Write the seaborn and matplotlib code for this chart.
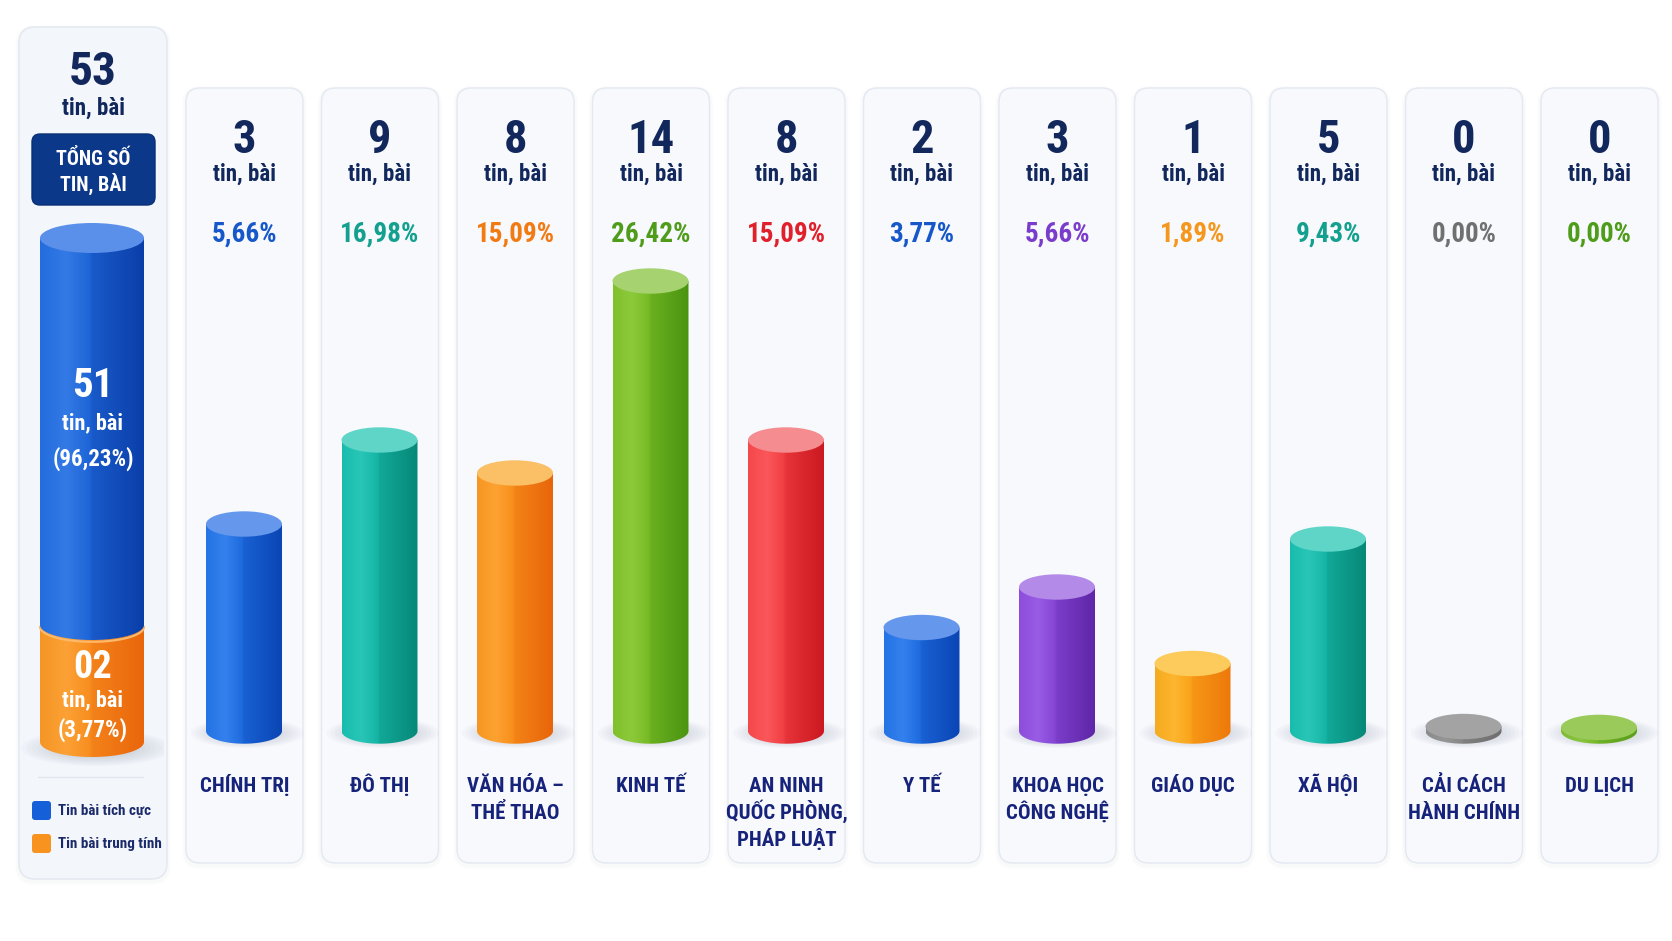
import numpy as np
import matplotlib
matplotlib.use('Agg')
import matplotlib.pyplot as plt
import matplotlib.font_manager as fm
from matplotlib.patches import FancyBboxPatch, Ellipse, PathPatch
from matplotlib.path import Path
from matplotlib.colors import to_rgb, LinearSegmentedColormap
import seaborn as sns

# ── Data ─────────────────────────────────────────────────────
categories = ['CHÍNH TRỊ', 'ĐÔ THỊ', 'VĂN HÓA –\nTHỂ THAO', 'KINH TẾ',
              'AN NINH\nQUỐC PHÒNG,\nPHÁP LUẬT', 'Y TẾ', 'KHOA HỌC\nCÔNG NGHỆ',
              'GIÁO DỤC', 'XÃ HỘI', 'CẢI CÁCH\nHÀNH CHÍNH', 'DU LỊCH']
counts = [3, 9, 8, 14, 8, 2, 3, 1, 5, 0, 0]
percents = ['5,66%', '16,98%', '15,09%', '26,42%', '15,09%', '3,77%',
            '5,66%', '1,89%', '9,43%', '0,00%', '0,00%']
# cylinder heights as drawn in the graphic (not to scale with the counts)
bar_height = [6.9, 9.7, 8.6, 15.0, 9.7, 3.45, 4.8, 2.25, 6.4, 0.15, 0.12]

total_count = 53
positive_count = 51
neutral_count = 2
positive_pct = '96,23%'
neutral_pct = '3,77%'
total_height = 16.8      # drawn height of the stacked cylinder
neutral_height = 3.9     # drawn height of the orange part

# body light, body dark, cap, percent text colour
styles = [
    ('#2577ec', '#0a45b4', '#6598ec', '#1657c9'),
    ('#19c2b2', '#078878', '#5fd5c8', '#13a08e'),
    ('#fd9b22', '#e8650a', '#fbbf66', '#f27a12'),
    ('#84c62c', '#4a9410', '#a6d270', '#4f9c1a'),
    ('#fb4a4e', '#cc1820', '#f58c90', '#e0202b'),
    ('#2577ec', '#0a45b4', '#6598ec', '#1657c9'),
    ('#9150e2', '#5f26a8', '#b38ae8', '#7a3ccb'),
    ('#fdb020', '#ee780a', '#fccb5c', '#f5971c'),
    ('#19c2b2', '#078878', '#5fd5c8', '#13a08e'),
    ('#8e8e8e', '#6e6e6e', '#a3a3a3', '#707070'),
    ('#80c030', '#5a9e1a', '#9acb5a', '#4f9c1a'),
]

# ── Fonts ────────────────────────────────────────────────────
sns.set_style('white')
avail = {f.name for f in fm.fontManager.ttflist}
FONT = 'Roboto'
for cand in ['Roboto Condensed', 'Liberation Sans Narrow', 'Roboto']:
    if cand in avail:
        FONT = cand
        break
SHRINK = 1.0 if FONT != 'Roboto' else 0.86
plt.rcParams['font.family'] = [FONT, 'DejaVu Sans']

NAVY = '#12285c'
LABEL = '#17237a'

W, H = 1672, 941
fig = plt.figure(figsize=(W / 100, H / 100), dpi=100)
fig.patch.set_facecolor('white')

# background axes in pixel units
bg = fig.add_axes([0, 0, 1, 1])
bg.set_xlim(0, W)
bg.set_ylim(H, 0)
bg.axis('off')
bg.set_zorder(0)


def card(x, y, w, h, fc, ec, r=14):
    for k, a in enumerate([0.015, 0.02, 0.025]):
        g = 4 - k
        bg.add_patch(FancyBboxPatch((x - g, y - g + 2), w + 2 * g, h + 2 * g,
                                    boxstyle=f'round,pad=0,rounding_size={r + g}',
                                    fc='#9aa6bd', ec='none', alpha=a))
    bg.add_patch(FancyBboxPatch((x, y), w, h, boxstyle=f'round,pad=0,rounding_size={r}',
                                fc=fc, ec=ec, lw=1.0))


def body_cmap(light, dark):
    l = np.array(to_rgb(light))
    d = np.array(to_rgb(dark))
    hi = l + (1 - l) * 0.07
    return LinearSegmentedColormap.from_list(
        'cyl', [(0, l * 0.97), (0.25, hi), (0.47, l * 0.78 + d * 0.22),
                (0.5, l * 0.55 + d * 0.45), (1, d)])


def cyl_path(cx, w, base, top, ry):
    t = np.linspace(0, np.pi, 50)
    arc = np.column_stack([cx + w / 2 * np.cos(t), base - ry * np.sin(t)])
    verts = np.vstack([[[cx - w / 2, top], [cx + w / 2, top]], arc, [[cx - w / 2, top]]])
    codes = [Path.MOVETO] + [Path.LINETO] * (len(verts) - 2) + [Path.CLOSEPOLY]
    return Path(verts, codes)


def draw_cylinder(ax, cx, w, base, top, ry, light, dark, cap, z=3, cap_on=True):
    clip = PathPatch(cyl_path(cx, w, base, top, ry), transform=ax.transData,
                     fc='none', ec='none')
    grad = np.linspace(0, 1, 256)[None, :]
    im = ax.imshow(grad, cmap=body_cmap(light, dark), aspect='auto', origin='lower',
                   extent=[cx - w / 2, cx + w / 2, base - ry * 1.05, top],
                   interpolation='bilinear', zorder=z)
    im.set_clip_path(clip)
    if cap_on:
        ax.add_patch(Ellipse((cx, top), w, 2 * ry, fc=cap, ec='none', zorder=z + 0.5))


def draw_shadow(ax, cx, base, w, h):
    for k in range(9):
        s = 1 - k * 0.07
        ax.add_patch(Ellipse((cx + w * 0.03, base), w * s, h * s, fc='#8a92a3',
                             ec='none', alpha=0.045, zorder=2))


# ── Left summary card ───────────────────────────────────────
card(19, 27, 148, 852, '#f3f6fb', '#e2e7f0', r=16)
bg.text(93, 85, str(total_count), ha='center', va='baseline', fontsize=34,
        fontweight='bold', color=NAVY)
bg.text(93, 115, 'tin, bài', ha='center', va='baseline', fontsize=16.5,
        fontweight='bold', color=NAVY)
bg.add_patch(FancyBboxPatch((32, 134), 123, 71, boxstyle='round,pad=0,rounding_size=8',
                            fc='#0c388a', ec='#0a2f75', lw=1))
bg.text(93, 165, 'TỔNG SỐ', ha='center', va='baseline', fontsize=14.5 * SHRINK,
        fontweight='bold', color='white')
bg.text(93, 191, 'TIN, BÀI', ha='center', va='baseline', fontsize=14.5 * SHRINK,
        fontweight='bold', color='white')
bg.plot([38, 143], [777, 777], color='#e1e5ec', lw=1)
bg.add_patch(FancyBboxPatch((32, 801), 19, 19, boxstyle='round,pad=0,rounding_size=3',
                            fc='#1560d8', ec='none'))
bg.add_patch(FancyBboxPatch((32, 834), 19, 19, boxstyle='round,pad=0,rounding_size=3',
                            fc='#f7931e', ec='none'))
bg.text(58, 815, 'Tin bài tích cực', ha='left', va='baseline', fontsize=10.8 * SHRINK,
        fontweight='bold', color='#1b2a6b')
bg.text(58, 848, 'Tin bài trung tính', ha='left', va='baseline', fontsize=10.8 * SHRINK,
        fontweight='bold', color='#1b2a6b')

# ── Category cards ──────────────────────────────────────────
card_x0, pitch, card_w = 186, 135.5, 117
for i, cat in enumerate(categories):
    x = card_x0 + pitch * i
    cx = x + card_w / 2
    card(x, 88, card_w, 775, '#f7f9fd', '#e3e8f1')
    bg.text(cx, 153, str(counts[i]), ha='center', va='baseline', fontsize=33.5,
            fontweight='bold', color=NAVY)
    bg.text(cx, 181, 'tin, bài', ha='center', va='baseline', fontsize=16.5,
            fontweight='bold', color=NAVY)
    bg.text(cx, 242, percents[i], ha='center', va='baseline', fontsize=19.5,
            fontweight='bold', color=styles[i][3])
    for k, line in enumerate(cat.split('\n')):
        bg.text(cx, 792 + 27 * k, line, ha='center', va='baseline',
                fontsize=15 * SHRINK, fontweight='bold', color=LABEL)

# ── Category cylinders (seaborn bars) ───────────────────────
PX = 30.0                                  # pixels per height unit
base_px = 731
ax = fig.add_axes([(244 - pitch / 2) / W, 0, pitch * 11 / W, 1])
ax.set_zorder(1)
ax.patch.set_alpha(0)
sns.barplot(x=categories, y=bar_height, hue=categories, palette=[s[0] for s in styles],
            order=categories, width=76 / pitch, legend=False, ax=ax)
ax.set_autoscale_on(False)
ax.set_xlim(-0.5, 10.5)
ax.set_ylim(-(H - base_px) / PX, base_px / PX)
ry = 12.7 / PX
for i, p in enumerate(ax.patches):
    w = p.get_width()
    cx = p.get_x() + w / 2
    h = p.get_height()
    p.set_visible(False)
    light, dark, cap, _ = styles[i]
    draw_shadow(ax, cx, -0.07, w * 1.48, 1.0)
    draw_cylinder(ax, cx, w, 0, h, ry, light, dark, cap)
ax.axis('off')

# ── Stacked total cylinder ──────────────────────────────────
tot_base_px = 742
axt = fig.add_axes([20 / W, 0, 144 / W, 1])
axt.set_zorder(1)
axt.patch.set_alpha(0)
tot = ['Tổng']
sns.barplot(x=tot, y=[total_height], color='#1f6fe6', width=104 / 144, ax=axt)
sns.barplot(x=tot, y=[neutral_height], color='#f7931e', width=104 / 144, ax=axt)
axt.set_autoscale_on(False)
axt.set_xlim(-0.5, 0.5)
axt.set_ylim(-(H - tot_base_px) / PX, tot_base_px / PX)
pb, po = axt.patches[0], axt.patches[1]
tw = pb.get_width()
tcx = pb.get_x() + tw / 2
t_ry = 15 / PX
for p in (pb, po):
    p.set_visible(False)
draw_shadow(axt, tcx, -0.2, tw * 1.45, 1.2)
draw_cylinder(axt, tcx, tw, 0, po.get_height(), t_ry, '#fc9a26', '#e9650b', '#fdb45e', z=3)
tt = np.linspace(0, np.pi, 50)
axt.plot(tcx + tw / 2 * np.cos(tt), po.get_height() - t_ry * np.sin(tt) - 0.06,
         color='#fdb86a', lw=1.6, zorder=4.2)
draw_cylinder(axt, tcx, tw, po.get_height(), pb.get_height(), t_ry,
              '#2470e4', '#0a3ea8', '#5b90ea', z=4.5)
axt.axis('off')

# white labels on the stacked cylinder
ov = fig.add_axes([0, 0, 1, 1])
ov.set_xlim(0, W)
ov.set_ylim(H, 0)
ov.axis('off')
ov.set_zorder(2)
ov.patch.set_alpha(0)
ov.text(93, 397, str(positive_count), ha='center', va='baseline', fontsize=29.5,
        fontweight='bold', color='white')
ov.text(93, 429, 'tin, bài', ha='center', va='baseline', fontsize=16,
        fontweight='bold', color='white')
ov.text(93, 466, f'({positive_pct})', ha='center', va='baseline', fontsize=16.5 * SHRINK,
        fontweight='bold', color='white')
ov.text(93, 678, f'{neutral_count:02d}', ha='center', va='baseline', fontsize=27.5,
        fontweight='bold', color='white')
ov.text(93, 706, 'tin, bài', ha='center', va='baseline', fontsize=16,
        fontweight='bold', color='white')
ov.text(93, 737, f'({neutral_pct})', ha='center', va='baseline', fontsize=16.5 * SHRINK,
        fontweight='bold', color='white')

fig.savefig('out.png', dpi=100, facecolor='white')
